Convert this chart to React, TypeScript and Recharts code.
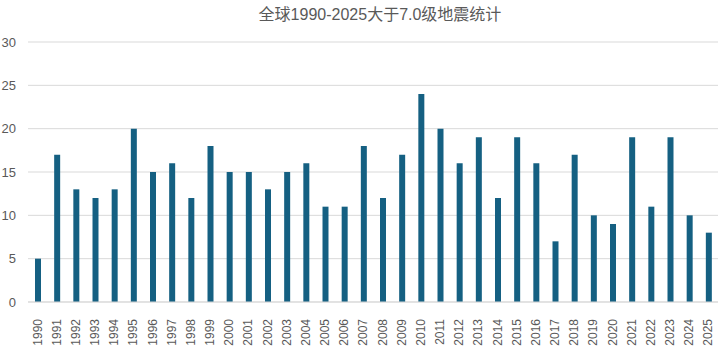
import React from "react";
import { BarChart, Bar, XAxis, YAxis, CartesianGrid } from "recharts";

const years = [
  "1990", "1991", "1992", "1993", "1994", "1995", "1996", "1997", "1998",
  "1999", "2000", "2001", "2002", "2003", "2004", "2005", "2006", "2007",
  "2008", "2009", "2010", "2011", "2012", "2013", "2014", "2015", "2016",
  "2017", "2018", "2019", "2020", "2021", "2022", "2023", "2024", "2025",
];
const counts = [
  5, 17, 13, 12, 13, 20, 15, 16, 12, 18, 15, 15, 13, 15, 16, 11, 11, 18,
  12, 17, 24, 20, 16, 19, 12, 19, 16, 7, 17, 10, 9, 19, 11, 19, 10, 8,
];
const yTicks = [0, 5, 10, 15, 20, 25, 30];

const data = years.map((year, i) => ({ year, count: counts[i] }));

const FONT = "'Liberation Sans', Arial, 'Noto Sans CJK SC', sans-serif";

const YearTick = (props: any) => {
  const { x, y, payload } = props;
  return (
    <text
      x={0}
      y={0}
      transform={`translate(${x},${y + 9}) rotate(-90)`}
      textAnchor="end"
      dominantBaseline="central"
      fontSize={12}
      fontFamily={FONT}
      fill="#595959"
    >
      {payload.value}
    </text>
  );
};

export default function App() {
  return (
    <div
      style={{
        position: "absolute",
        left: 0,
        top: 0,
        width: 720,
        height: 353,
        background: "#ffffff",
      }}
    >
      {/* ── Title ── */}
      <div
        style={{
          position: "absolute",
          left: 0,
          top: 5,
          width: 760,
          textAlign: "center",
          fontFamily: FONT,
          fontSize: 16,
          color: "#595959",
          lineHeight: "20px",
        }}
      >
        全球1990-2025大于7.0级地震统计
      </div>

      <BarChart
        width={720}
        height={353}
        data={data}
        margin={{ top: 42, right: 2, bottom: 0, left: 0 }}
      >
        <CartesianGrid vertical={false} stroke="#d9d9d9" />
        <XAxis
          dataKey="year"
          interval={0}
          height={51}
          tickLine={false}
          axisLine={{ stroke: "#d9d9d9" }}
          tick={<YearTick />}
        />
        <YAxis
          domain={[0, 30]}
          ticks={yTicks}
          width={28}
          tickLine={false}
          axisLine={false}
          tickSize={0}
          tickMargin={12}
          tick={{ fontSize: 13, fontFamily: FONT, fill: "#595959" }}
        />
        <Bar
          dataKey="count"
          fill="#156082"
          barSize={6}
          isAnimationActive={false}
        />
      </BarChart>
    </div>
  );
}
